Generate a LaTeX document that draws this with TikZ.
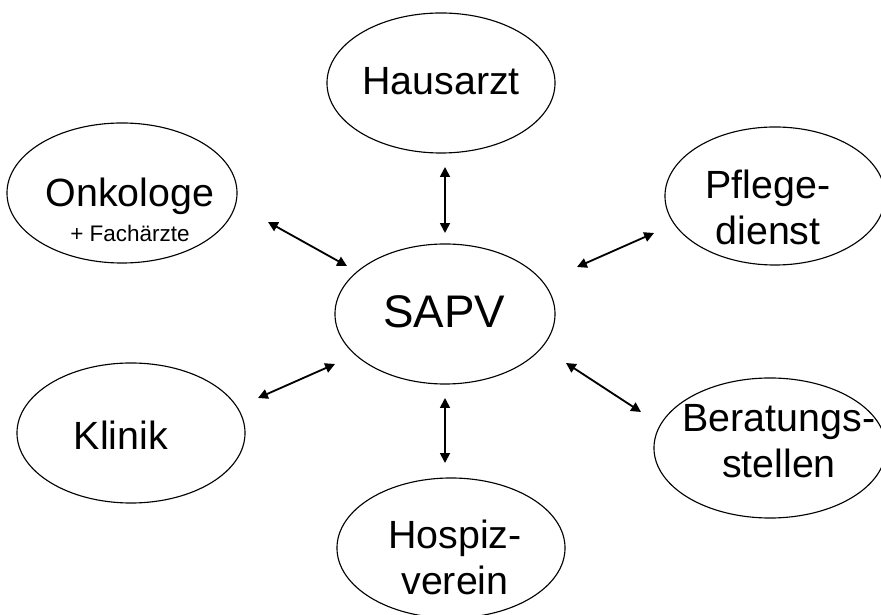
\documentclass[tikz,border=0pt]{standalone}
\usepackage{fontspec}
\setmainfont{Liberation Sans}
\usetikzlibrary{shapes.geometric, arrows.meta}
\tikzstyle{blob} = [ellipse, draw=black, line width=0.8pt, inner sep=0, minimum width=5.7cm, minimum height=3.5cm]
\tikzstyle{txt} = [inner sep=0, align=center, font=\fontsize{28}{33}\selectfont]
\tikzstyle{arrow} = [line width=1.3pt, {Triangle[length=7pt,width=7pt]}-{Triangle[length=7pt,width=7pt]}]

\begin{document}
\begin{tikzpicture}[x=0.025cm,y=-0.025cm]
\useasboundingbox (0,0) rectangle (881,615);
\node[blob] (haus) at (441,83) {};
\node[blob,minimum width=5.75cm] (onko) at (122,193) {};
\node[blob,minimum width=5.5cm,minimum height=3.45cm] (pflege) at (775,196) {};
\node[blob,minimum width=5.5cm] (sapv) at (445,314) {};
\node[blob] (klinik) at (131,433) {};
\node[blob,minimum width=5.8cm] (berat) at (770,448) {};
\node[blob] (hospiz) at (451,548) {};
\node[txt] (haus-t) at (441,81.5) {Hausarzt};
\node[txt] (onko-t) at (130,209.5) {Onkologe\\[-8pt]{\fontsize{16}{18}\selectfont + Fachärzte}};
\node[txt] (pflege-t) at (768,207.5) {Pflege-\\dienst};
\node[txt,font=\fontsize{32.5}{38}\selectfont] (sapv-t) at (444,312) {SAPV};
\node[txt] (klinik-t) at (121,435.5) {Klinik};
\node[txt] (berat-t) at (779,441) {Beratungs-\\stellen};
\node[txt] (hospiz-t) at (455,557.5) {Hospiz-\\verein};
\coordinate (haus-s) at (445,167);
\coordinate (sapv-n) at (445,233);
\coordinate (onko-e) at (268,222);
\coordinate (sapv-nw) at (347,266);
\coordinate (sapv-ne) at (577,267);
\coordinate (pflege-w) at (654,233);
\coordinate (klinik-e) at (258,398);
\coordinate (sapv-sw) at (335,364);
\coordinate (sapv-se) at (566,363);
\coordinate (berat-w) at (641,412);
\coordinate (sapv-s) at (445,398);
\coordinate (hospiz-n) at (445,463);
\draw[arrow] (haus-s) -- (sapv-n);
\draw[arrow] (onko-e) -- (sapv-nw);
\draw[arrow] (sapv-ne) -- (pflege-w);
\draw[arrow] (klinik-e) -- (sapv-sw);
\draw[arrow] (sapv-se) -- (berat-w);
\draw[arrow] (sapv-s) -- (hospiz-n);
\end{tikzpicture}
\end{document}
